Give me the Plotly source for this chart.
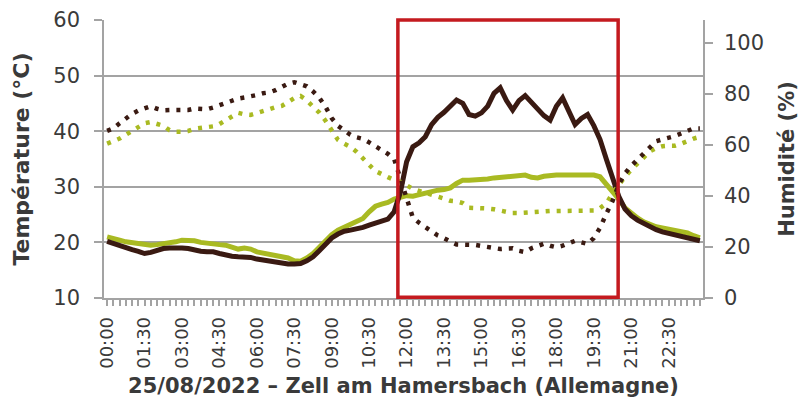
import plotly.graph_objects as go

times = [f"{h:02d}:{m:02d}" for h in range(24) for m in (0, 15, 30, 45)]
tick_labels = ["00:00", "01:30", "03:00", "04:30", "06:00", "07:30", "09:00", "10:30",
               "12:00", "13:30", "15:00", "16:30", "18:00", "19:30", "21:00", "22:30"]

temp_dark = [20.2, 19.8, 19.3, 19.0, 18.7, 18.4, 18.0, 18.2, 18.6, 18.9, 19.0, 19.1,
             19.0, 18.9, 18.6, 18.4, 18.3, 18.3, 18.0, 17.7, 17.5, 17.4, 17.4, 17.3,
             17.0, 16.8, 16.6, 16.4, 16.2, 16.1, 16.1, 16.2, 16.7, 17.4, 18.5, 19.8,
             20.8, 21.5, 22.0, 22.2, 22.4, 22.7, 23.1, 23.5, 23.8, 24.2, 25.5, 29.0,
             34.5, 37.2, 37.9, 39.0, 41.2, 42.5, 43.4, 44.5, 45.6, 45.0, 43.0, 42.7,
             43.3, 44.5, 46.8, 47.8, 45.5, 43.8, 45.5, 46.4, 45.2, 44.0, 42.8, 42.0,
             44.5, 46.0, 43.5, 41.2, 42.3, 43.0, 41.0, 38.5, 35.0, 31.5, 28.3, 26.0,
             24.8, 24.0, 23.4, 22.8, 22.3, 21.9, 21.6, 21.3, 21.0, 20.7, 20.5, 20.3]

temp_green = [21.0, 20.8, 20.4, 20.1, 19.9, 19.7, 19.6, 19.5, 19.6, 19.7, 19.8, 20.1,
              20.4, 20.4, 20.3, 20.0, 19.8, 19.7, 19.6, 19.5, 19.1, 18.8, 19.0, 18.8,
              18.3, 18.1, 18.0, 17.8, 17.5, 17.2, 16.7, 16.6, 17.2, 18.0, 19.1, 20.3,
              21.4, 22.2, 22.7, 23.1, 23.7, 24.3, 25.5, 26.5, 26.9, 27.2, 27.8, 28.0,
              28.4, 28.3, 28.6, 29.0, 29.3, 29.4, 29.5, 29.8, 30.6, 31.2, 31.2, 31.2,
              31.2, 31.4, 31.6, 31.7, 31.8, 31.8, 32.0, 32.1, 31.7, 31.6, 31.9, 32.1,
              32.1, 32.1, 32.1, 32.1, 32.1, 32.1, 32.1, 31.8, 30.5, 29.2, 27.8, 26.2,
              25.2, 24.4, 23.7, 23.2, 22.8, 22.6, 22.4, 22.2, 22.1, 21.7, 21.2, 20.8]

hum_dark = [65.5, 66.5, 68.5, 70.5, 72.2, 73.5, 74.5, 75.2, 74.2, 73.6, 73.7, 73.7,
            73.5, 73.7, 74.3, 74.2, 74.0, 74.7, 75.5, 76.5, 77.5, 78.2, 78.6, 79.0,
            79.6, 80.3, 80.6, 81.5, 83.0, 84.0, 84.6, 84.0, 83.0, 81.0, 78.5, 75.0,
            70.5, 67.5, 65.5, 64.0, 63.0, 62.4, 61.0, 59.6, 58.0, 56.5, 54.5, 47.0,
            38.5, 31.5, 29.5, 27.8, 26.0, 24.5, 23.4, 22.3, 21.0, 20.9, 21.0, 20.8,
            20.4, 19.9, 19.4, 19.2, 19.4, 19.5, 18.5, 18.0, 19.5, 20.6, 21.3, 20.5,
            19.9, 20.5, 21.3, 22.4, 21.8, 21.2, 23.5, 27.5, 33.0, 38.0, 44.5, 48.9,
            51.8, 54.2, 57.0, 59.3, 61.5, 62.2, 62.7, 63.5, 64.5, 65.6, 66.5, 66.5]

hum_green = [60.5, 61.5, 62.5, 64.0, 65.6, 67.2, 68.5, 69.0, 68.4, 67.5, 65.8, 65.2,
             65.2, 65.5, 66.4, 66.7, 66.8, 67.3, 68.2, 69.8, 71.2, 72.6, 72.0, 71.8,
             72.5, 73.4, 74.0, 74.8, 75.3, 76.8, 78.4, 79.2, 77.5, 75.0, 72.7, 69.5,
             65.6, 62.0, 60.5, 59.2, 57.3, 55.0, 52.2, 49.8, 48.4, 47.4, 46.3, 45.5,
             44.2, 42.8, 42.0, 41.3, 40.6, 40.0, 39.0, 38.1, 37.9, 37.2, 35.4, 35.3,
             35.4, 35.1, 34.8, 34.3, 33.8, 33.3, 33.3, 33.5, 33.7, 34.0, 34.1, 34.1,
             34.1, 34.1, 34.1, 34.1, 34.1, 34.1, 34.3, 35.2, 37.1, 41.0, 44.5, 47.6,
             50.3, 52.7, 55.5, 57.5, 58.8, 59.5, 59.7, 59.7, 60.5, 61.6, 62.5, 63.2]

DARK = "#3a1a12"
GREEN = "#a9ba22"
RED = "#c41a1f"
GRID = "#a3a3a3"
TXT = "#3a3a3a"
FONT = "DejaVu Sans, Roboto, sans-serif"

fig = go.Figure()
fig.add_trace(go.Scatter(x=times, y=hum_green, yaxis="y2", mode="lines",
                         line=dict(color=GREEN, width=4.5, dash="4px,7px"), showlegend=False))
fig.add_trace(go.Scatter(x=times, y=hum_dark, yaxis="y2", mode="lines",
                         line=dict(color=DARK, width=4.5, dash="4px,7px"), showlegend=False))
fig.add_trace(go.Scatter(x=times, y=temp_green, mode="lines",
                         line=dict(color=GREEN, width=5), showlegend=False))
fig.add_trace(go.Scatter(x=times, y=temp_dark, mode="lines",
                         line=dict(color=DARK, width=5), showlegend=False))

fig.add_shape(type="rect", xref="x", yref="paper", x0=46.6, x1=81.9, y0=0.003, y1=1.0,
              line=dict(color=RED, width=3.5), fillcolor="rgba(0,0,0,0)", layer="above")

fig.update_layout(
    width=799, height=403,
    margin=dict(l=104, r=96, t=20, b=105),
    paper_bgcolor="white", plot_bgcolor="white",
    font=dict(family=FONT, color=TXT),
    xaxis=dict(
        type="category", range=[-0.5, 95.5], automargin=False,
        tickmode="array", tickvals=times,
        ticktext=[t if t in tick_labels else "" for t in times],
        tickangle=-90, tickfont=dict(size=18, color=TXT), ticklabelstandoff=4,
        ticks="outside", ticklen=6, tickcolor=GRID, tickwidth=1.5,
        showline=True, linecolor=GRID, linewidth=1.5, showgrid=False, zeroline=False,
        title=dict(text="<b>25/08/2022 – Zell am Hamersbach (Allemagne)</b>",
                   font=dict(size=21, color=TXT), standoff=10),
    ),
    yaxis=dict(
        range=[10, 60], tick0=10, dtick=10, automargin=False,
        tickfont=dict(size=21, color=TXT), ticklabelstandoff=10,
        ticks="outside", ticklen=8, tickcolor=GRID, tickwidth=1.5,
        showline=True, linecolor=GRID, linewidth=1.5,
        showgrid=True, gridcolor=GRID, gridwidth=1.5, zeroline=False,
        title=dict(text="<b>Température (°C)</b>", font=dict(size=22, color=TXT), standoff=18),
    ),
    yaxis2=dict(
        overlaying="y", side="right", range=[0, 109], tick0=0, dtick=20, automargin=False,
        tickfont=dict(size=21, color=TXT), ticklabelstandoff=7,
        ticks="outside", ticklen=8, tickcolor=GRID, tickwidth=1.5,
        showline=True, linecolor=GRID, linewidth=1.5, showgrid=False, zeroline=False,
        title=dict(text="<b>Humidité (%)</b>", font=dict(size=21, color=TXT), standoff=16),
    ),
)

fig.write_html("out.html", config={"displayModeBar": False},
               post_script="document.body.style.margin='0';")
